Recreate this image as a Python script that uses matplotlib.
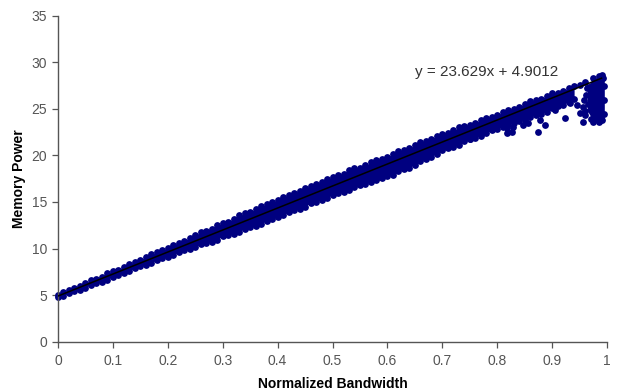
import matplotlib.pyplot as plt

plt.rcParams['font.family'] = ['Liberation Sans', 'DejaVu Sans']

# trendline coefficients, as printed on the chart
slope = 23.629
intercept = 4.9012
trend_label = "y = 23.629x + 4.9012"

# upper edge of the point cloud
upper_x = [0.00, 0.02, 0.04, 0.06, 0.08, 0.10, 0.12, 0.14, 0.16, 0.18,
           0.20, 0.22, 0.24, 0.26, 0.28, 0.30, 0.32, 0.34, 0.36, 0.38,
           0.40, 0.42, 0.44, 0.46, 0.48, 0.50, 0.52, 0.54, 0.56, 0.58,
           0.60, 0.62, 0.64, 0.66, 0.68, 0.70, 0.72, 0.74, 0.76, 0.78,
           0.80, 0.82, 0.84, 0.86, 0.88, 0.90, 0.92, 0.94, 0.96, 0.975,
           0.985, 0.99]
upper_y = [5.05, 5.55, 6.0, 6.6, 7.0, 7.6, 8.0, 8.6, 9.05, 9.6,
           10.05, 10.65, 11.1, 11.75, 12.15, 12.75, 13.15, 13.8, 14.2, 14.8,
           15.2, 15.8, 16.2, 16.75, 17.15, 17.7, 18.05, 18.6, 18.95, 19.5,
           19.85, 20.45, 20.8, 21.4, 21.8, 22.35, 22.7, 23.2, 23.5, 24.05,
           24.35, 24.9, 25.25, 25.8, 26.1, 26.65, 26.95, 27.5, 27.85, 28.3,
           28.55, 28.6]
upper_mid_x = [0.01, 0.03, 0.05, 0.07, 0.09, 0.11, 0.13, 0.15, 0.17, 0.19,
               0.21, 0.23, 0.25, 0.27, 0.29, 0.31, 0.33, 0.35, 0.37, 0.39,
               0.41, 0.43, 0.45, 0.47, 0.49, 0.51, 0.53, 0.55, 0.57, 0.59,
               0.61, 0.63, 0.65, 0.67, 0.69, 0.71, 0.73, 0.75, 0.77, 0.79,
               0.81, 0.83, 0.85, 0.87, 0.89, 0.91, 0.93, 0.95]
upper_mid_y = [5.35, 5.75, 6.35, 6.75, 7.35, 7.75, 8.35, 8.8, 9.4, 9.8,
               10.4, 10.85, 11.5, 11.9, 12.5, 12.9, 13.55, 13.95, 14.6, 14.95,
               15.55, 15.95, 16.55, 16.9, 17.5, 17.85, 18.4, 18.7, 19.3, 19.6,
               20.2, 20.55, 21.15, 21.55, 22.1, 22.45, 23.0, 23.3, 23.8, 24.15,
               24.65, 25.0, 25.55, 25.9, 26.4, 26.75, 27.25, 27.6]

# lower edge of the main band
lower_x = [0.00, 0.02, 0.04, 0.06, 0.08, 0.10, 0.12, 0.14, 0.16, 0.18,
           0.20, 0.22, 0.24, 0.26, 0.28, 0.30, 0.32, 0.34, 0.36, 0.38,
           0.40, 0.42, 0.44, 0.46, 0.48, 0.50, 0.52, 0.54, 0.56, 0.58,
           0.60, 0.62, 0.64, 0.66, 0.68, 0.70, 0.72, 0.74, 0.76, 0.78,
           0.80, 0.82, 0.84, 0.86, 0.88, 0.90, 0.92, 0.94, 0.96, 0.975,
           0.985, 0.99]
lower_y = [4.75, 5.2, 5.6, 6.1, 6.45, 6.95, 7.35, 7.9, 8.25, 8.75,
           9.1, 9.6, 9.95, 10.45, 10.75, 11.3, 11.6, 12.1, 12.45, 12.95,
           13.35, 13.9, 14.3, 14.85, 15.2, 15.75, 16.1, 16.6, 16.9, 17.4,
           17.75, 18.3, 18.7, 19.35, 19.85, 20.6, 20.95, 21.5, 21.9, 22.45,
           22.85, 23.35, 23.65, 24.15, 24.45, 25.05, 25.45, 26.1, 24.3, 23.9,
           23.7, 23.8]
lower_mid_x = [0.01, 0.03, 0.05, 0.07, 0.09, 0.11, 0.13, 0.15, 0.17, 0.19,
               0.21, 0.23, 0.25, 0.27, 0.29, 0.31, 0.33, 0.35, 0.37, 0.39,
               0.41, 0.43, 0.45, 0.47, 0.49, 0.51, 0.53, 0.55, 0.57, 0.59,
               0.61, 0.63, 0.65, 0.67, 0.69, 0.71, 0.73, 0.75, 0.77, 0.79,
               0.81, 0.83, 0.85, 0.87, 0.89, 0.91, 0.93]
lower_mid_y = [4.95, 5.45, 5.8, 6.3, 6.65, 7.2, 7.55, 8.1, 8.45, 8.95,
               9.3, 9.8, 10.15, 10.65, 10.95, 11.5, 11.8, 12.3, 12.65, 13.2,
               13.55, 14.15, 14.5, 15.05, 15.4, 15.95, 16.3, 16.8, 17.1, 17.6,
               17.95, 18.55, 18.95, 19.65, 20.15, 20.8, 21.15, 21.75, 22.1, 22.7,
               23.05, 23.5, 23.85, 24.35, 24.7, 25.3, 25.7]

# scattered points below the band and around the cluster near full bandwidth
out_x = [0.571, 0.583, 0.601, 0.708, 0.720, 0.750, 0.787, 0.792, 0.814, 0.817,
         0.818, 0.826, 0.829, 0.842, 0.847, 0.856, 0.874, 0.878, 0.887, 0.905,
         0.911, 0.923, 0.933, 0.945, 0.951, 0.956, 0.956, 0.958, 0.962, 0.965,
         0.960, 0.963, 0.970, 0.995, 0.995, 0.995, 0.993, 0.968, 0.975, 0.985]
out_y = [17.55, 17.7, 18.4, 20.9, 21.1, 21.75, 23.1, 23.1, 23.6, 22.95,
         22.45, 22.55, 23.1, 24.35, 23.3, 23.5, 22.55, 23.8, 23.3, 24.9,
         25.8, 24.0, 25.6, 25.4, 24.6, 23.6, 25.2, 26.0, 26.5, 25.5,
         24.8, 27.2, 23.9, 24.5, 26.0, 27.5, 28.3, 27.4, 23.55, 23.6]

# dense cluster at the right end
cluster_x = [0.964, 0.972, 0.980, 0.988, 0.995]
cluster_top = [27.5, 28.0, 28.3, 28.6, 28.5]
cluster_bottom = [24.8, 24.0, 23.7, 23.7, 23.9]

navy = '#000080'
msize = 24

fig = plt.figure(figsize=(6.19, 3.89), dpi=100)
ax = fig.add_axes([0.0937, 0.1216, 0.887, 0.838])

band_x = upper_x[:-4]
ax.fill_between(band_x, lower_y[:-4], upper_y[:-4], color=navy, lw=0)
ax.fill_between(cluster_x, cluster_bottom, cluster_top, color=navy, lw=0)
for xs, ys in [(upper_x, upper_y), (upper_mid_x, upper_mid_y),
               (lower_x, lower_y), (lower_mid_x, lower_mid_y), (out_x, out_y)]:
    ax.scatter(xs, ys, s=msize, marker='o', color=navy, lw=0, clip_on=False, zorder=2)

line_x = [0.0, 0.99]
ax.plot(line_x, [slope * v + intercept for v in line_x], color='black', lw=1.1, zorder=3)
ax.text(0.78, 29.0, trend_label, ha='center', va='center', fontsize=11, color='#333333')

ax.set_xlim(0, 1)
ax.set_ylim(0, 35)
ax.set_xticks([0, 0.1, 0.2, 0.3, 0.4, 0.5, 0.6, 0.7, 0.8, 0.9, 1])
ax.set_xticklabels(['0', '0.1', '0.2', '0.3', '0.4', '0.5', '0.6', '0.7', '0.8', '0.9', '1'])
ax.set_yticks(range(0, 36, 5))
ax.spines['top'].set_visible(False)
ax.spines['right'].set_visible(False)
for s in ['left', 'bottom']:
    ax.spines[s].set_color('#555555')
    ax.spines[s].set_linewidth(1.0)
ax.tick_params(direction='out', length=4, width=0.9, color='#555555',
               labelcolor='#555555', labelsize=10)
ax.tick_params(axis='x', pad=5)
ax.tick_params(axis='y', pad=4)
ax.set_xlabel('Normalized Bandwidth', fontsize=10, fontweight='bold', labelpad=6)
ax.set_ylabel('Memory Power', fontsize=10, fontweight='bold', labelpad=4)

fig.savefig('out.png', dpi=100)
